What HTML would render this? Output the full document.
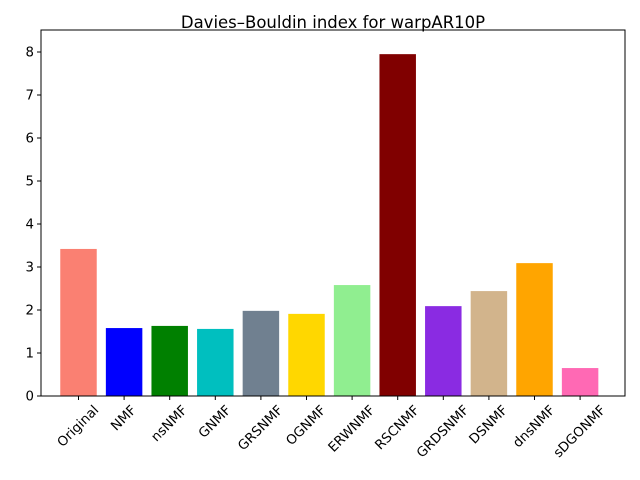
<!DOCTYPE html>
<html><head><meta charset="utf-8"><style>
body{margin:0;background:#fff}
svg{display:block;font-family:"DejaVu Sans","Liberation Sans",sans-serif}
</style></head><body>
<svg id="chart" width="640" height="480">
<text x="333" y="28" font-size="16.5" text-anchor="middle">Davies–Bouldin index for warpAR10P</text>
<g id="bars"></g>
<g id="axes"></g>
</svg>
<script>
const categories=["Original","NMF","nsNMF","GNMF","GRSNMF","OGNMF","ERWNMF","RSCNMF","GRDSNMF","DSNMF","dnsNMF","sDGONMF"];
const values=[3.42,1.58,1.63,1.56,1.98,1.91,2.58,7.95,2.09,2.44,3.09,0.65];
const colors=["#fa8072","#0000ff","#008000","#00bfbf","#708090","#ffd700","#90ee90","#800000","#8a2be2","#d2b48c","#ffa500","#ff69b4"];
const yTicks=[0,1,2,3,4,5,6,7,8];
const L=41,R=625,T=30,B=396;
const x0=78.5,step=45.6,bw=0.8;
function xs(i){return x0+i*step;}
function ys(v){return B-v*43;}
const NS="http://www.w3.org/2000/svg";
const bars=document.getElementById('bars'),axes=document.getElementById('axes');
function mk(tag,attrs,parent){const e=document.createElementNS(NS,tag);for(const k in attrs)e.setAttribute(k,attrs[k]);parent.appendChild(e);return e;}
values.forEach((v,i)=>{
 const r=mk('rect',{x:xs(i)-bw*step/2,y:ys(v),width:bw*step,height:B-ys(v),fill:colors[i]},bars);
 
 
 mk('line',{x1:xs(i),x2:xs(i),y1:B,y2:B+4,stroke:'#000'},axes);
 const t=mk('text',{x:0,y:0,'font-size':13.3,'text-anchor':'middle','dominant-baseline':'central'},axes);
 t.textContent=categories[i];
 
 
 const w=t.getComputedTextLength();
 const h=(w+15)*0.7071;
 const cy=B+7+h/2;
 t.setAttribute('transform',`translate(${xs(i)} ${cy}) rotate(-45)`);
});
yTicks.forEach(v=>{
 mk('line',{x1:L-4,x2:L,y1:ys(v),y2:ys(v),stroke:'#000'},axes);
 const t=mk('text',{x:L-7,y:ys(v)+4.5,'font-size':13.3,'text-anchor':'end'},axes);
 t.textContent=v;
 
 
});
const f=mk('rect',{x:L,y:T,width:R-L,height:B-T,fill:'none',stroke:'#000','stroke-width':1},axes);


</script>
</body></html>
